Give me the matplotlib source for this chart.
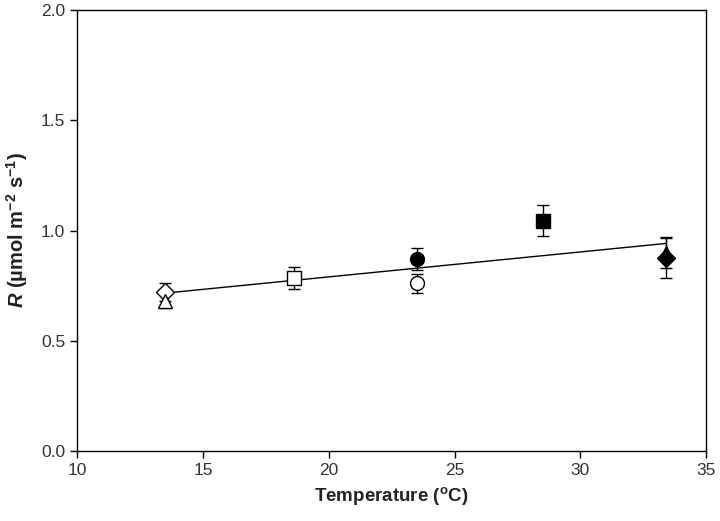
import numpy as np
import matplotlib.pyplot as plt

# R vs temperature, one point per treatment
temp = [13.5, 13.5, 18.6, 23.5, 23.5, 28.5, 33.4, 33.4]
resp = [0.72, 0.68, 0.785, 0.87, 0.76, 1.045, 0.90, 0.875]
err = [0.04, 0.03, 0.05, 0.05, 0.045, 0.07, 0.07, 0.09]
markers = ['D', '^', 's', 'o', 'o', 's', '^', 'D']
filled = [False, False, False, True, False, True, True, True]

xticks = [10, 15, 20, 25, 30, 35]
yticks = [0.0, 0.5, 1.0, 1.5, 2.0]

plt.rcParams['font.family'] = 'Liberation Sans'
plt.rcParams['mathtext.fontset'] = 'custom'
plt.rcParams['mathtext.rm'] = 'Liberation Sans:bold'
plt.rcParams['mathtext.it'] = 'Liberation Sans:italic:bold'
plt.rcParams['mathtext.bf'] = 'Liberation Sans:bold'

fig = plt.figure(figsize=(7.2, 5.21), dpi=100)
ax = fig.add_axes([0.107, 0.134, 0.874, 0.847])

# regression line
k, b = np.polyfit(temp, resp, 1)
xl = np.array([min(temp), max(temp)])
ax.plot(xl, k * xl + b, color='black', lw=1.0, zorder=1)

for x, y, e, m, f in zip(temp, resp, err, markers, filled):
    ax.errorbar(x, y, yerr=e, fmt=m, ms=10 if m != 'D' else 9,
                mfc='black' if f else 'white', mec='black', mew=1.0,
                ecolor='black', elinewidth=1.0, capsize=4, capthick=1.0,
                zorder=2)

ax.set_xlim(10, 35)
ax.set_ylim(0, 2.0)
ax.set_xticks(xticks)
ax.set_yticks(yticks)
ax.set_yticklabels(['%.1f' % v for v in yticks])
ax.tick_params(direction='out', length=5, width=1, labelsize=12.5,
               colors='black', labelcolor='#333333')
for s in ax.spines.values():
    s.set_linewidth(1.0)

ax.set_xlabel('Temperature ($\\mathregular{^o}$C)', fontsize=13.5,
              fontweight='bold', color='#222222', labelpad=5)
ax.set_ylabel('$\\mathit{R}$ (\u00b5mol m$\\mathregular{^{-2}}$ s$\\mathregular{^{-1}}$)',
              fontsize=14.5, fontweight='bold', color='#222222', labelpad=8)

fig.savefig('out.png', dpi=100)
